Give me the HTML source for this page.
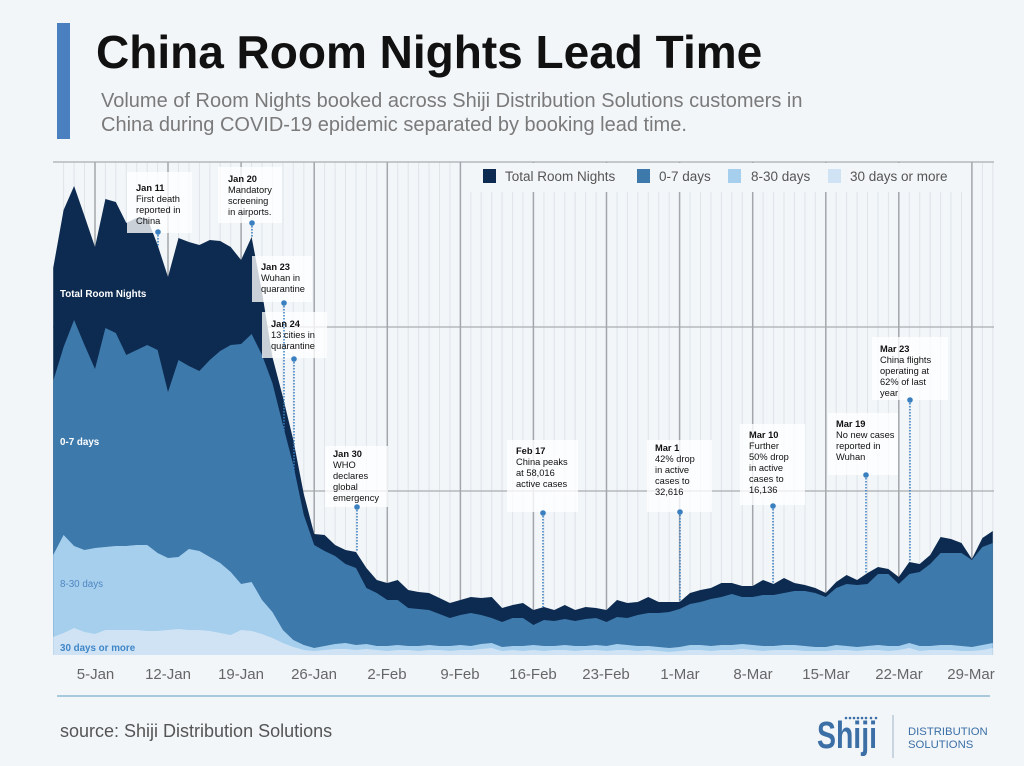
<!DOCTYPE html>
<html><head><meta charset="utf-8"><style>
html,body{margin:0;padding:0;background:#f2f6f9;}
svg{display:block;}
text{font-family:"Liberation Sans",sans-serif;}
</style></head><body>
<svg width="1024" height="766" viewBox="0 0 1024 766" xmlns="http://www.w3.org/2000/svg">
<rect width="1024" height="766" fill="#f2f6f9"/>
<!-- header -->
<rect x="57" y="23" width="13" height="116" fill="#4a7fc0"/>
<text x="96" y="68" font-size="46" font-weight="bold" fill="#111">China Room Nights Lead Time</text>
<text x="101" y="107" font-size="20" fill="#7a7a7a">Volume of Room Nights booked across Shiji Distribution Solutions customers in</text>
<text x="101" y="131" font-size="20" fill="#7a7a7a">China during COVID-19 epidemic separated by booking lead time.</text>

<!-- grid -->
<g stroke="#dfe4e9" stroke-width="1">
<line x1="63.6" y1="162" x2="63.6" y2="655"/><line x1="74.1" y1="162" x2="74.1" y2="655"/><line x1="84.5" y1="162" x2="84.5" y2="655"/><line x1="105.4" y1="162" x2="105.4" y2="655"/><line x1="115.8" y1="162" x2="115.8" y2="655"/><line x1="126.3" y1="162" x2="126.3" y2="655"/><line x1="136.7" y1="162" x2="136.7" y2="655"/><line x1="147.2" y1="162" x2="147.2" y2="655"/><line x1="157.6" y1="162" x2="157.6" y2="655"/><line x1="178.5" y1="162" x2="178.5" y2="655"/><line x1="188.9" y1="162" x2="188.9" y2="655"/><line x1="199.4" y1="162" x2="199.4" y2="655"/><line x1="209.8" y1="162" x2="209.8" y2="655"/><line x1="220.2" y1="162" x2="220.2" y2="655"/><line x1="230.7" y1="162" x2="230.7" y2="655"/><line x1="251.6" y1="162" x2="251.6" y2="655"/><line x1="262" y1="162" x2="262" y2="655"/><line x1="272.4" y1="162" x2="272.4" y2="655"/><line x1="282.9" y1="162" x2="282.9" y2="655"/><line x1="293.3" y1="162" x2="293.3" y2="655"/><line x1="303.8" y1="162" x2="303.8" y2="655"/><line x1="324.6" y1="162" x2="324.6" y2="655"/><line x1="335.1" y1="162" x2="335.1" y2="655"/><line x1="345.5" y1="162" x2="345.5" y2="655"/><line x1="356" y1="162" x2="356" y2="655"/><line x1="366.4" y1="162" x2="366.4" y2="655"/><line x1="376.8" y1="162" x2="376.8" y2="655"/><line x1="397.7" y1="162" x2="397.7" y2="655"/><line x1="408.2" y1="162" x2="408.2" y2="655"/><line x1="418.6" y1="162" x2="418.6" y2="655"/><line x1="429" y1="162" x2="429" y2="655"/><line x1="439.5" y1="162" x2="439.5" y2="655"/><line x1="449.9" y1="162" x2="449.9" y2="655"/><line x1="470.8" y1="162" x2="470.8" y2="655"/><line x1="481.2" y1="162" x2="481.2" y2="655"/><line x1="491.7" y1="162" x2="491.7" y2="655"/><line x1="502.1" y1="162" x2="502.1" y2="655"/><line x1="512.6" y1="162" x2="512.6" y2="655"/><line x1="523" y1="162" x2="523" y2="655"/><line x1="543.9" y1="162" x2="543.9" y2="655"/><line x1="554.3" y1="162" x2="554.3" y2="655"/><line x1="564.8" y1="162" x2="564.8" y2="655"/><line x1="575.2" y1="162" x2="575.2" y2="655"/><line x1="585.6" y1="162" x2="585.6" y2="655"/><line x1="596.1" y1="162" x2="596.1" y2="655"/><line x1="617" y1="162" x2="617" y2="655"/><line x1="627.4" y1="162" x2="627.4" y2="655"/><line x1="637.8" y1="162" x2="637.8" y2="655"/><line x1="648.3" y1="162" x2="648.3" y2="655"/><line x1="658.7" y1="162" x2="658.7" y2="655"/><line x1="669.2" y1="162" x2="669.2" y2="655"/><line x1="690" y1="162" x2="690" y2="655"/><line x1="700.5" y1="162" x2="700.5" y2="655"/><line x1="710.9" y1="162" x2="710.9" y2="655"/><line x1="721.4" y1="162" x2="721.4" y2="655"/><line x1="731.8" y1="162" x2="731.8" y2="655"/><line x1="742.2" y1="162" x2="742.2" y2="655"/><line x1="763.1" y1="162" x2="763.1" y2="655"/><line x1="773.6" y1="162" x2="773.6" y2="655"/><line x1="784" y1="162" x2="784" y2="655"/><line x1="794.4" y1="162" x2="794.4" y2="655"/><line x1="804.9" y1="162" x2="804.9" y2="655"/><line x1="815.3" y1="162" x2="815.3" y2="655"/><line x1="836.2" y1="162" x2="836.2" y2="655"/><line x1="846.6" y1="162" x2="846.6" y2="655"/><line x1="857.1" y1="162" x2="857.1" y2="655"/><line x1="867.5" y1="162" x2="867.5" y2="655"/><line x1="878" y1="162" x2="878" y2="655"/><line x1="888.4" y1="162" x2="888.4" y2="655"/><line x1="909.3" y1="162" x2="909.3" y2="655"/><line x1="919.7" y1="162" x2="919.7" y2="655"/><line x1="930.2" y1="162" x2="930.2" y2="655"/><line x1="940.6" y1="162" x2="940.6" y2="655"/><line x1="951" y1="162" x2="951" y2="655"/><line x1="961.5" y1="162" x2="961.5" y2="655"/><line x1="982.4" y1="162" x2="982.4" y2="655"/><line x1="992.8" y1="162" x2="992.8" y2="655"/>
</g>
<g stroke="#b4b8bc" stroke-width="1.5">
<line x1="53" y1="162" x2="994" y2="162"/>
<line x1="53" y1="327" x2="994" y2="327"/>
<line x1="53" y1="491" x2="994" y2="491"/>
</g>
<g stroke="#a3a7ab" stroke-width="1.5">
<line x1="95" y1="162" x2="95" y2="655"/><line x1="168" y1="162" x2="168" y2="655"/><line x1="241.1" y1="162" x2="241.1" y2="655"/><line x1="314.2" y1="162" x2="314.2" y2="655"/><line x1="387.3" y1="162" x2="387.3" y2="655"/><line x1="460.4" y1="162" x2="460.4" y2="655"/><line x1="533.4" y1="162" x2="533.4" y2="655"/><line x1="606.5" y1="162" x2="606.5" y2="655"/><line x1="679.6" y1="162" x2="679.6" y2="655"/><line x1="752.7" y1="162" x2="752.7" y2="655"/><line x1="825.8" y1="162" x2="825.8" y2="655"/><line x1="898.8" y1="162" x2="898.8" y2="655"/><line x1="971.9" y1="162" x2="971.9" y2="655"/>
</g>

<!-- legend -->
<rect x="463" y="163" width="507" height="29" fill="#f3f6f9"/>
<rect x="483" y="169" width="13" height="14" fill="#0d2b50"/>
<text x="505" y="181" font-size="13.5" fill="#555">Total Room Nights</text>
<rect x="637" y="169" width="13" height="14" fill="#3e79ab"/>
<text x="659" y="181" font-size="13.5" fill="#555">0-7 days</text>
<rect x="728" y="169" width="13" height="14" fill="#a6cfee"/>
<text x="751" y="181" font-size="13.5" fill="#555">8-30 days</text>
<rect x="828" y="169" width="13" height="14" fill="#cfe3f4"/>
<text x="850" y="181" font-size="13.5" fill="#555">30 days or more</text>

<!-- areas -->
<polygon fill="#0d2b50" points="53.2,655 53.2,268 63.6,210 74.1,186 84.5,216 95,247 105.4,199 115.8,202 126.3,223 136.7,218 147.2,218 157.6,245 168,277 178.5,238 188.9,242 199.4,245 209.8,240 220.2,241 230.7,247 241.1,260 251.6,237 262,292 272.4,357 282.9,397 293.3,440 303.8,494 314.2,534 324.6,535 335.1,545 345.5,550 356,552 366.4,568 376.8,580 387.3,583 397.7,580 408.2,590 418.6,592 429,593 439.5,598 449.9,603 460.4,600 470.8,597 481.2,598 491.7,597 502.1,608 512.6,605 523,603 533.4,610 543.9,607 554.3,610 564.8,605 575.2,610 585.6,607 596.1,608 606.5,610 617,600 627.4,603 637.8,602 648.3,597 658.7,602 669.2,602 679.6,602 690,593 700.5,590 710.9,588 721.4,583 731.8,583 742.2,586 752.7,586 763.1,580 773.6,584 784,578 794.4,583 804.9,585 815.3,588 825.8,593 836.2,582 846.6,575 857.1,580 867.5,573 878,567 888.4,569 898.8,577 909.3,562 919.7,564 930.2,555 940.6,537 951,539 961.5,543 971.9,559 982.4,538 992.8,531 992.8,655"/>
<polygon fill="#3e79ab" points="53.2,655 53.2,381 63.6,347 74.1,320 84.5,345 95,369 105.4,328 115.8,333 126.3,355 136.7,350 147.2,345 157.6,350 168,392 178.5,360 188.9,366 199.4,371 209.8,360 220.2,351 230.7,345 241.1,344 251.6,334 262,355 272.4,383 282.9,425 293.3,465 303.8,515 314.2,545 324.6,551 335.1,556 345.5,564 356,568 366.4,588 376.8,593 387.3,600 397.7,600 408.2,608 418.6,609 429,610 439.5,614 449.9,618 460.4,615 470.8,613 481.2,615 491.7,618 502.1,622 512.6,618 523,618 533.4,625 543.9,620 554.3,621 564.8,619 575.2,621 585.6,619 596.1,618 606.5,622 617,617 627.4,618 637.8,615 648.3,613 658.7,613 669.2,612 679.6,609 690,604 700.5,602 710.9,599 721.4,597 731.8,594 742.2,597 752.7,597 763.1,595 773.6,595 784,593 794.4,591 804.9,591 815.3,593 825.8,597 836.2,588 846.6,584 857.1,585 867.5,584 878,574 888.4,574 898.8,584 909.3,574 919.7,572 930.2,564 940.6,553 951,553 961.5,553 971.9,560 982.4,547 992.8,543 992.8,655"/>
<polygon fill="#a6cfee" points="53.2,655 53.2,555 63.6,535 74.1,546 84.5,550 95,548 105.4,547 115.8,546 126.3,546 136.7,545 147.2,545 157.6,553 168,558 178.5,557 188.9,549 199.4,551 209.8,557 220.2,563 230.7,572 241.1,584 251.6,582 262,600 272.4,612 282.9,630 293.3,640 303.8,645 314.2,648 324.6,646 335.1,644 345.5,643 356,645 366.4,644 376.8,646 387.3,646 397.7,645 408.2,646 418.6,646 429,645 439.5,646 449.9,646 460.4,645 470.8,646 481.2,644 491.7,643 502.1,647 512.6,646 523,646 533.4,645 543.9,646 554.3,646 564.8,645 575.2,646 585.6,646 596.1,645 606.5,646 617,644 627.4,645 637.8,646 648.3,646 658.7,647 669.2,648 679.6,647 690,645 700.5,645 710.9,646 721.4,645 731.8,645 742.2,644 752.7,645 763.1,646 773.6,646 784,645 794.4,645 804.9,646 815.3,647 825.8,647 836.2,645 846.6,646 857.1,647 867.5,646 878,645 888.4,646 898.8,646 909.3,643 919.7,646 930.2,646 940.6,645 951,645 961.5,646 971.9,647 982.4,645 992.8,643 992.8,655"/>
<polygon fill="#cfe3f4" points="53.2,655 53.2,637 63.6,633 74.1,628 84.5,632 95,634 105.4,630 115.8,630 126.3,630 136.7,630 147.2,631 157.6,631 168,630 178.5,629 188.9,630 199.4,630 209.8,631 220.2,633 230.7,635 241.1,630 251.6,631 262,634 272.4,638 282.9,643 293.3,647 303.8,650 314.2,651 324.6,650 335.1,649 345.5,649 356,650 366.4,649 376.8,650 387.3,651 397.7,650 408.2,650 418.6,651 429,650 439.5,650 449.9,651 460.4,650 470.8,650 481.2,649 491.7,648 502.1,651 512.6,650 523,651 533.4,650 543.9,651 554.3,650 564.8,650 575.2,651 585.6,650 596.1,650 606.5,651 617,650 627.4,650 637.8,651 648.3,650 658.7,651 669.2,652 679.6,651 690,650 700.5,650 710.9,651 721.4,650 731.8,650 742.2,649 752.7,650 763.1,651 773.6,650 784,650 794.4,650 804.9,651 815.3,651 825.8,651 836.2,650 846.6,650 857.1,651 867.5,650 878,650 888.4,651 898.8,650 909.3,648 919.7,651 930.2,650 940.6,650 951,650 961.5,651 971.9,651 982.4,650 992.8,648 992.8,655"/>

<!-- in-chart labels -->
<text x="60" y="297" font-size="9.8" font-weight="bold" fill="#ffffff">Total Room Nights</text>
<text x="60" y="445" font-size="9.8" font-weight="bold" fill="#ffffff">0-7 days</text>
<text x="60" y="587" font-size="9.8" fill="#4f86c0">8-30 days</text>
<text x="60" y="651" font-size="9.8" font-weight="bold" fill="#3f86c8">30 days or more</text>

<!-- annotation boxes -->
<g fill="#ffffff" fill-opacity="0.78">
<rect x="127" y="172" width="65" height="61"/>
<rect x="218" y="167" width="64" height="56"/>
<rect x="252" y="256" width="60" height="46"/>
<rect x="262" y="312" width="65" height="46"/>
<rect x="325" y="446" width="63" height="61"/>
<rect x="507" y="440" width="71" height="72"/>
<rect x="647" y="440" width="65" height="72"/>
<rect x="740" y="424" width="65" height="81"/>
<rect x="828" y="413" width="70" height="62"/>
<rect x="872" y="337" width="76" height="63"/>
</g>

<!-- dotted lines & pins -->
<g stroke="#3a7fc0" stroke-width="1.5" stroke-dasharray="1.5,1.5">
<line x1="158" y1="232" x2="158" y2="246"/>
<line x1="252" y1="223" x2="252" y2="238"/>
<line x1="284" y1="303" x2="284" y2="432"/>
<line x1="294" y1="359" x2="294" y2="478"/>
<line x1="357" y1="507" x2="357" y2="552"/>
<line x1="543" y1="513" x2="543" y2="607"/>
<line x1="680" y1="512" x2="680" y2="602"/>
<line x1="773" y1="506" x2="773" y2="584"/>
<line x1="866" y1="475" x2="866" y2="574"/>
<line x1="910" y1="400" x2="910" y2="562"/>
</g>
<g fill="#3a7fc0">
<circle cx="158" cy="232" r="2.8"/><circle cx="252" cy="223" r="2.8"/><circle cx="284" cy="303" r="2.8"/><circle cx="294" cy="359" r="2.8"/><circle cx="357" cy="507" r="2.8"/><circle cx="543" cy="513" r="2.8"/><circle cx="680" cy="512" r="2.8"/><circle cx="773" cy="506" r="2.8"/><circle cx="866" cy="475" r="2.8"/><circle cx="910" cy="400" r="2.8"/>
</g>

<!-- annotation text -->
<g font-size="9.3" fill="#111">
<text x="136" y="191" font-weight="bold">Jan 11</text>
<text x="136" y="202">First death</text>
<text x="136" y="213">reported in</text>
<text x="136" y="224">China</text>

<text x="228" y="182" font-weight="bold">Jan 20</text>
<text x="228" y="193">Mandatory</text>
<text x="228" y="204">screening</text>
<text x="228" y="215">in airports.</text>

<text x="261" y="270" font-weight="bold">Jan 23</text>
<text x="261" y="281">Wuhan in</text>
<text x="261" y="292">quarantine</text>

<text x="271" y="327" font-weight="bold">Jan 24</text>
<text x="271" y="338">13 cities in</text>
<text x="271" y="349">quarantine</text>

<text x="333" y="457" font-weight="bold">Jan 30</text>
<text x="333" y="468">WHO</text>
<text x="333" y="479">declares</text>
<text x="333" y="490">global</text>
<text x="333" y="501">emergency</text>

<text x="516" y="454" font-weight="bold">Feb 17</text>
<text x="516" y="465">China peaks</text>
<text x="516" y="476">at 58,016</text>
<text x="516" y="487">active cases</text>

<text x="655" y="451" font-weight="bold">Mar 1</text>
<text x="655" y="462">42% drop</text>
<text x="655" y="473">in active</text>
<text x="655" y="484">cases to</text>
<text x="655" y="495">32,616</text>

<text x="749" y="438" font-weight="bold">Mar 10</text>
<text x="749" y="449">Further</text>
<text x="749" y="460">50% drop</text>
<text x="749" y="471">in active</text>
<text x="749" y="482">cases to</text>
<text x="749" y="493">16,136</text>

<text x="836" y="427" font-weight="bold">Mar 19</text>
<text x="836" y="438">No new cases</text>
<text x="836" y="449">reported in</text>
<text x="836" y="460">Wuhan</text>

<text x="880" y="352" font-weight="bold">Mar 23</text>
<text x="880" y="363">China flights</text>
<text x="880" y="374">operating at</text>
<text x="880" y="385">62% of last</text>
<text x="880" y="396">year</text>
</g>

<!-- x axis labels -->
<g font-size="15" fill="#666" text-anchor="middle">
<text x="95.5" y="679">5-Jan</text>
<text x="168" y="679">12-Jan</text>
<text x="241" y="679">19-Jan</text>
<text x="314" y="679">26-Jan</text>
<text x="387" y="679">2-Feb</text>
<text x="460" y="679">9-Feb</text>
<text x="533" y="679">16-Feb</text>
<text x="606" y="679">23-Feb</text>
<text x="680" y="679">1-Mar</text>
<text x="753" y="679">8-Mar</text>
<text x="826" y="679">15-Mar</text>
<text x="899" y="679">22-Mar</text>
<text x="971" y="679">29-Mar</text>
</g>

<line x1="57" y1="696" x2="990" y2="696" stroke="#a9c9dd" stroke-width="2"/>

<!-- footer -->
<text x="60" y="737" font-size="18" fill="#555">source: Shiji Distribution Solutions</text>
<text x="817" y="748" font-size="38" font-weight="bold" fill="#3b6fa6" textLength="60" lengthAdjust="spacingAndGlyphs">Shiji</text>
<g fill="#3b6fa6">
<circle cx="846" cy="718" r="1.3"/><circle cx="850" cy="718" r="1.3"/><circle cx="854" cy="718" r="1.3"/><circle cx="858" cy="718" r="1.3"/><circle cx="862" cy="718" r="1.3"/><circle cx="866" cy="718" r="1.3"/><circle cx="871" cy="718" r="1.3"/><circle cx="876" cy="718" r="1.3"/>
</g>
<line x1="893" y1="715" x2="893" y2="758" stroke="#9fb3c6" stroke-width="1"/>
<text x="908" y="735" font-size="11.3" fill="#3b6fa6">DISTRIBUTION</text>
<text x="908" y="748" font-size="11.3" fill="#3b6fa6">SOLUTIONS</text>
</svg>
</body></html>
